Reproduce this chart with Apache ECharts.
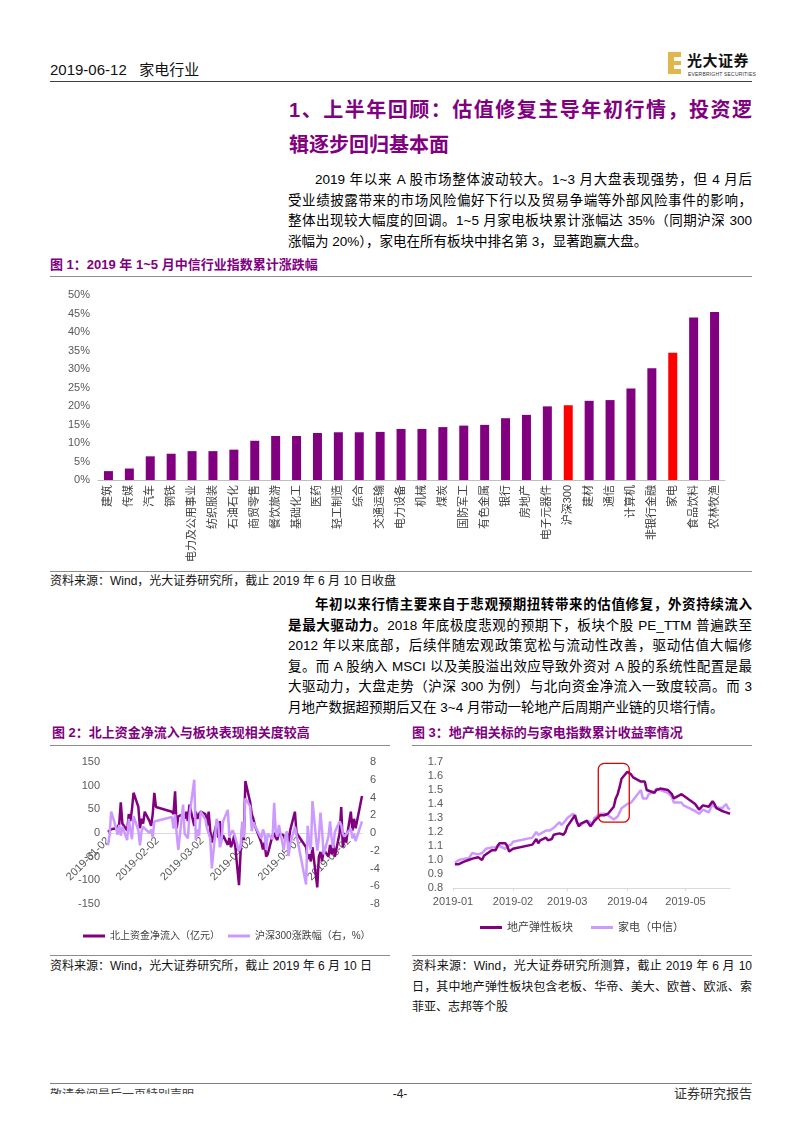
<!DOCTYPE html>
<html><head><meta charset="utf-8">
<script src="https://cdn.jsdelivr.net/npm/echarts@6/dist/echarts.min.js"></script>
<style>
body{margin:0;width:802px;height:1133px;background:#fff;position:relative;overflow:hidden;font-family:"Liberation Sans",Arial,"Noto Sans CJK SC",sans-serif;color:#000;}
.abs{position:absolute;white-space:nowrap;}
.jl{text-align:justify;text-align-last:justify;}
.hr{position:absolute;height:0;border-top:1px solid #8c8c8c;}
.ft{position:absolute;white-space:nowrap;font-weight:bold;color:#800080;font-size:13px;line-height:16px;}
.src{position:absolute;white-space:nowrap;font-size:12px;line-height:16px;color:#111;}
.p{position:absolute;left:288px;width:464px;font-size:13.5px;line-height:20px;white-space:nowrap;}
.chart{position:absolute;}
</style></head>
<body>
<!-- header -->
<div class="abs" style="left:50px;top:61px;font-size:15px;line-height:18px;color:#111;">2019-06-12&nbsp;&nbsp;&nbsp;家电行业</div>
<div style="position:absolute;left:668px;top:52px;width:13px;height:22px;background:#E2B64A;"></div>
<div style="position:absolute;left:674px;top:57px;width:7px;height:4px;background:#fff;"></div>
<div style="position:absolute;left:674px;top:65px;width:7px;height:4px;background:#fff;"></div>
<div class="abs" style="left:687px;top:52px;font-size:15px;line-height:17px;font-weight:bold;letter-spacing:0.5px;color:#111;">光大证券</div>
<div class="abs" style="left:688px;top:71px;font-size:5px;line-height:6px;color:#333;letter-spacing:0.2px;">EVERBRIGHT SECURITIES</div>
<div class="hr" style="left:50px;top:81px;width:702px;border-top:1.5px solid #404040;"></div>

<!-- heading -->
<div class="abs jl" style="left:289px;top:98px;width:463px;font-size:20px;line-height:24px;font-weight:bold;color:#800080;">1、上半年回顾：估值修复主导年初行情，投资逻</div>
<div class="abs" style="left:289px;top:133px;font-size:20px;line-height:24px;font-weight:bold;color:#800080;">辑逐步回归基本面</div>

<!-- paragraph 1 -->
<div class="p jl" style="top:170px;padding-left:27px;width:437px;">2019 年以来 A 股市场整体波动较大。1~3 月大盘表现强势，但 4 月后</div>
<div class="p jl" style="top:190.5px;">受业绩披露带来的市场风险偏好下行以及贸易争端等外部风险事件的影响，</div>
<div class="p jl" style="top:211px;">整体出现较大幅度的回调。1~5 月家电板块累计涨幅达 35%（同期沪深 300</div>
<div class="p" style="top:231.5px;">涨幅为 20%），家电在所有板块中排名第 3，显著跑赢大盘。</div>

<!-- figure 1 -->
<div class="ft" style="left:50px;top:257px;">图 1：2019 年 1~5 月中信行业指数累计涨跌幅</div>
<div class="hr" style="left:50px;top:276px;width:702px;"></div>
<div id="c1" class="chart" style="left:50px;top:280px;width:702px;height:288px;"></div>
<div class="hr" style="left:50px;top:571px;width:702px;"></div>
<div class="src" style="left:50px;top:573px;">资料来源：Wind，光大证券研究所，截止 2019 年 6 月 10 日收盘</div>

<!-- paragraph 2 -->
<div class="p jl" style="top:595px;padding-left:27px;width:437px;font-weight:bold;">年初以来行情主要来自于悲观预期扭转带来的估值修复，外资持续流入</div>
<div class="p jl" style="top:615.6px;"><b>是最大驱动力。</b>2018 年底极度悲观的预期下，板块个股 PE_TTM 普遍跌至</div>
<div class="p jl" style="top:636.2px;">2012 年以来底部，后续伴随宏观政策宽松与流动性改善，驱动估值大幅修</div>
<div class="p jl" style="top:656.8px;">复。而 A 股纳入 MSCI 以及美股溢出效应导致外资对 A 股的系统性配置是最</div>
<div class="p jl" style="top:677.4px;">大驱动力，大盘走势（沪深 300 为例）与北向资金净流入一致度较高。而 3</div>
<div class="p" style="top:698px;">月地产数据超预期后又在 3~4 月带动一轮地产后周期产业链的贝塔行情。</div>

<!-- figure 2 & 3 -->
<div class="ft" style="left:52px;top:725px;">图 2：北上资金净流入与板块表现相关度较高</div>
<div class="hr" style="left:50px;top:745px;width:340px;"></div>
<div id="c2" class="chart" style="left:50px;top:750px;width:340px;height:200px;"></div>
<div class="hr" style="left:50px;top:955px;width:340px;"></div>
<div class="src" style="left:50px;top:958px;">资料来源：Wind，光大证券研究所，截止 2019 年 6 月 10 日</div>

<div class="ft" style="left:412px;top:725px;">图 3：地产相关标的与家电指数累计收益率情况</div>
<div class="hr" style="left:412px;top:745px;width:340px;"></div>
<div id="c3" class="chart" style="left:412px;top:750px;width:340px;height:200px;"></div>
<div class="hr" style="left:412px;top:955px;width:340px;"></div>
<div class="src jl" style="left:412px;top:958px;width:340px;">资料来源：Wind，光大证券研究所测算，截止 2019 年 6 月 10</div>
<div class="src jl" style="left:412px;top:978.5px;width:340px;">日，其中地产弹性板块包含老板、华帝、美大、欧普、欧派、索</div>
<div class="src" style="left:412px;top:999px;">菲亚、志邦等个股</div>

<!-- footer -->
<div class="hr" style="left:50px;top:1083px;width:702px;border-top:1.5px solid #7f7f7f;"></div>
<div style="position:absolute;left:50px;top:1088px;width:200px;height:6px;overflow:hidden;">
  <div class="abs" style="left:0;top:0;font-size:12px;line-height:14px;color:#404040;">敬请参阅最后一页特别声明</div>
</div>
<div class="abs" style="left:385px;top:1086px;width:30px;text-align:center;font-size:12px;line-height:16px;color:#222;">-4-</div>
<div class="abs" style="left:652px;top:1086px;width:100px;text-align:right;font-size:13px;line-height:16px;color:#333;">证券研究报告</div>

<script>
// ---------- Figure 1 data ----------
const industries = ['建筑','传媒','汽车','钢铁','电力及公用事业','纺织服装','石油石化','商贸零售','餐饮旅游','基础化工','医药','轻工制造','综合','交通运输','电力设备','机械','煤炭','国防军工','有色金属','银行','房地产','电子元器件','沪深300','建材','通信','计算机','非银行金融','家电','食品饮料','农林牧渔'];
const ytdReturns = [2.4,3.1,6.4,7.1,7.8,7.8,8.2,10.6,11.9,11.9,12.7,12.9,12.9,13.0,13.8,13.8,14.3,14.7,14.9,16.7,17.6,19.9,20.2,21.4,21.6,24.7,30.2,34.4,43.9,45.4];
const highlighted = ['沪深300','家电'];

// ---------- Figure 2 data (trading days) ----------
const tradeDates = [
'2019-01-02','2019-01-03','2019-01-04','2019-01-07','2019-01-08','2019-01-09','2019-01-10','2019-01-11','2019-01-14','2019-01-15','2019-01-16','2019-01-17','2019-01-18','2019-01-21','2019-01-22','2019-01-23','2019-01-24','2019-01-25','2019-01-28','2019-01-29','2019-01-30','2019-01-31',
'2019-02-01','2019-02-11','2019-02-12','2019-02-13','2019-02-14','2019-02-15','2019-02-18','2019-02-19','2019-02-20','2019-02-21','2019-02-22','2019-02-25','2019-02-26','2019-02-27','2019-02-28',
'2019-03-01','2019-03-04','2019-03-05','2019-03-06','2019-03-07','2019-03-08','2019-03-11','2019-03-12','2019-03-13','2019-03-14','2019-03-15','2019-03-18','2019-03-19','2019-03-20','2019-03-21','2019-03-22','2019-03-25','2019-03-26','2019-03-27','2019-03-28','2019-03-29',
'2019-04-01','2019-04-02','2019-04-03','2019-04-04','2019-04-08','2019-04-09','2019-04-10','2019-04-11','2019-04-12','2019-04-15','2019-04-16','2019-04-17','2019-04-18','2019-04-19','2019-04-22','2019-04-23','2019-04-24','2019-04-25','2019-04-26','2019-04-29','2019-04-30',
'2019-05-06','2019-05-07','2019-05-08','2019-05-09','2019-05-10','2019-05-13','2019-05-14','2019-05-15','2019-05-16','2019-05-17','2019-05-20','2019-05-21','2019-05-22','2019-05-23','2019-05-24','2019-05-27','2019-05-28','2019-05-29','2019-05-30','2019-05-31',
'2019-06-03','2019-06-04','2019-06-05','2019-06-06','2019-06-10'];
const northFlow = [
2,0,8,10,12,18,65,20,5,40,25,50,85,55,10,30,20,45,25,15,40,85,
55,45,40,88,10,35,40,30,45,25,60,15,45,30,40,
45,40,15,45,5,-20,20,-10,25,-15,-5,-25,-10,-30,-20,-5,-110,-40,10,-15,110,
65,40,30,15,-20,-35,-20,-50,-45,-5,0,-10,-15,0,-5,-15,0,-20,5,45,0,
-30,-55,-45,-60,-30,-115,-50,-40,-60,-35,-50,-25,-45,-20,-50,0,55,-30,0,-20,
45,5,30,10,78];
const hs300Chg = [
-1.4,-0.2,2.4,0.6,-0.2,0.9,-0.3,0.7,-0.8,1.6,0.3,-0.7,1.9,0.3,-1.4,0.2,0.7,0.6,0.0,0.4,-0.5,1.3,
1.3,1.8,0.5,2.1,-0.1,-1.9,3.2,-0.1,0.0,-0.6,2.0,6.0,-0.8,0.4,-0.3,
2.4,1.5,0.5,0.4,-0.6,-4.0,1.6,1.0,-1.6,-1.0,1.3,2.6,-0.4,-0.2,0.3,-0.1,-2.0,-1.6,1.3,-0.5,3.9,
3.0,0.2,1.2,0.8,-0.6,0.4,-0.1,-1.9,-0.1,-0.7,3.4,0.2,-0.4,0.9,-1.9,-0.4,0.2,-2.6,-1.3,0.7,0.6,
-5.8,0.8,-1.1,-1.9,3.6,-2.0,-0.6,2.3,0.3,-2.4,-0.4,1.3,-0.6,-1.7,0.1,1.3,0.9,-0.1,-0.4,-0.4,
0.5,-0.6,-0.1,-0.9,1.3];
const flowLabelDates = ['2019-01-02','2019-02-02','2019-03-02','2019-04-02','2019-05-02','2019-06-02'];

// ---------- Figure 3 data (cumulative index, trading days from 2019-01-02) ----------
const propertyChain = [
0.97,0.96,0.97,0.99,1.00,1.00,0.99,1.01,1.02,1.01,1.00,1.03,1.04,1.07,1.06,1.07,1.10,1.12,1.12,1.10,1.06,1.07,
1.08,1.11,1.12,1.15,1.12,1.14,1.16,1.14,1.13,1.15,1.18,1.19,1.18,1.18,1.20,
1.24,1.30,1.32,1.27,1.24,1.26,1.28,1.26,1.24,1.25,1.28,1.32,1.33,1.32,1.31,1.33,1.38,1.44,1.47,1.52,1.58,
1.63,1.62,1.61,1.59,1.56,1.55,1.56,1.50,1.49,1.48,1.50,1.51,1.51,1.50,1.50,1.49,1.47,1.44,1.45,1.47,1.48,
1.40,1.38,1.36,1.37,1.39,1.38,1.39,1.42,1.40,1.37,1.35,1.36,1.34,1.34,1.33];
const applianceIdx = [
0.98,0.97,1.00,1.01,1.00,1.01,1.02,1.05,1.04,1.05,1.05,1.04,1.08,1.09,1.08,1.09,1.10,1.10,1.08,1.10,1.09,1.11,
1.13,1.16,1.17,1.20,1.18,1.17,1.21,1.20,1.21,1.20,1.23,1.27,1.25,1.26,1.28,
1.30,1.33,1.30,1.27,1.27,1.25,1.28,1.29,1.27,1.25,1.30,1.33,1.34,1.33,1.34,1.32,1.29,1.30,1.31,1.34,1.37,
1.40,1.39,1.41,1.41,1.50,1.44,1.45,1.44,1.47,1.49,1.51,1.51,1.50,1.49,1.48,1.47,1.45,1.41,1.40,1.41,1.39,
1.35,1.34,1.33,1.32,1.36,1.34,1.35,1.40,1.38,1.38,1.37,1.38,1.40,1.37,1.36];
const perfLabelDates = ['2019-01-01','2019-02-01','2019-03-01','2019-04-01','2019-05-01'];
const perfRange = ['2019-01-01','2019-05-24'];
const boxCorners = [['2019-03-17',1.69],['2019-04-02',1.27]];

// ---------- helpers ----------
const FONT = '"Liberation Sans", Arial, "Noto Sans CJK SC", sans-serif';
const ts = s => { const p = s.split('-').map(Number); return new Date(p[0], p[1]-1, p[2]).getTime(); };
const pad = n => (n < 10 ? '0' : '') + n;
const DARK = '#800080', LIGHT = '#CC99FF';

// ---------- Figure 1 ----------
const c1 = echarts.init(document.getElementById('c1'));
c1.setOption({
  animation:false,
  textStyle:{fontFamily:FONT},
  grid:{left:48,right:27,top:15,bottom:88,containLabel:false},
  xAxis:{type:'category',data:industries,
    axisLine:{lineStyle:{color:'#BFBFBF',width:1}},axisTick:{show:false},
    axisLabel:{rotate:90,interval:0,fontSize:11,color:'#404040',margin:5,fontFamily:FONT}},
  yAxis:{type:'value',min:0,max:50,interval:5,
    axisLine:{show:false},axisTick:{show:false},splitLine:{show:false},
    axisLabel:{formatter:'{value}%',fontSize:11,color:'#595959',margin:8,fontFamily:FONT}},
  series:[{type:'bar',barWidth:9,
    data:ytdReturns.map((v,i)=>({value:v,itemStyle:{color:highlighted.includes(industries[i])?'#FF0000':DARK}}))}]
});

// ---------- Figure 2 ----------
const c2 = echarts.init(document.getElementById('c2'));
const G2 = {left:58,right:28,top:12,bottom:46,h:200};
const zeroOffset = (G2.h - G2.top - G2.bottom) / 2; // distance from grid bottom to the zero line
c2.setOption({
  animation:false,
  textStyle:{fontFamily:FONT},
  grid:{left:G2.left,right:G2.right,top:G2.top,bottom:G2.bottom,containLabel:false},
  legend:{left:28,top:176,itemWidth:22,itemHeight:3,itemGap:8,icon:'rect',
    textStyle:{fontSize:10,color:'#404040',fontFamily:FONT},
    data:['北上资金净流入（亿元）','沪深300涨跌幅（右，%）']},
  xAxis:{type:'value',min:ts(tradeDates[0]),max:ts(tradeDates[tradeDates.length-1]),
    axisLine:{onZero:true,lineStyle:{color:'#D9D9D9',width:1}},axisTick:{show:false},splitLine:{show:false},
    axisLabel:{customValues:flowLabelDates.map(ts),rotate:45,fontSize:11,color:'#595959',margin:6 - zeroOffset,hideOverlap:false,
      formatter:v=>{const d=new Date(v);return d.getFullYear()+'-'+pad(d.getMonth()+1)+'-'+pad(d.getDate());}}},
  yAxis:[
    {type:'value',min:-150,max:150,interval:50,axisLine:{show:false},axisTick:{show:false},splitLine:{show:false},
      axisLabel:{fontSize:11,color:'#595959',margin:8}},
    {type:'value',min:-8,max:8,interval:2,axisLine:{show:false},axisTick:{show:false},splitLine:{show:false},
      axisLabel:{fontSize:11,color:'#595959',margin:8}}
  ],
  series:[
    {name:'北上资金净流入（亿元）',type:'line',yAxisIndex:0,symbol:'none',
      lineStyle:{color:DARK,width:2.5},itemStyle:{color:DARK},
      data:tradeDates.map((d,i)=>[ts(d),northFlow[i]])},
    {name:'沪深300涨跌幅（右，%）',type:'line',yAxisIndex:1,symbol:'none',
      lineStyle:{color:LIGHT,width:2.5},itemStyle:{color:LIGHT},
      data:tradeDates.map((d,i)=>[ts(d),hs300Chg[i]])}
  ]
});

// ---------- Figure 3 ----------
const c3 = echarts.init(document.getElementById('c3'));
const perfDates = tradeDates.slice(0, propertyChain.length);
c3.setOption({
  animation:false,
  textStyle:{fontFamily:FONT},
  grid:{left:41,right:22,top:12,bottom:62,containLabel:false},
  legend:{left:'center',top:167,itemWidth:22,itemHeight:3,itemGap:18,icon:'rect',
    textStyle:{fontSize:11,color:'#404040',fontFamily:FONT},
    data:['地产弹性板块','家电（中信）']},
  xAxis:{type:'value',min:ts(perfRange[0]),max:ts(perfRange[1]),
    axisLine:{lineStyle:{color:'#D9D9D9',width:1}},
    axisTick:{show:true,customValues:perfLabelDates.map(ts),length:3,lineStyle:{color:'#D9D9D9'}},
    splitLine:{show:false},
    axisLabel:{customValues:perfLabelDates.map(ts),fontSize:11,color:'#595959',margin:8,hideOverlap:false,
      formatter:v=>{const d=new Date(v);return d.getFullYear()+'-'+pad(d.getMonth()+1);}}},
  yAxis:{type:'value',min:0.8,max:1.7,interval:0.1,axisLine:{show:false},axisTick:{show:false},splitLine:{show:false},
    axisLabel:{fontSize:11,color:'#595959',margin:10,formatter:v=>v.toFixed(1)}},
  series:[
    {name:'地产弹性板块',type:'line',symbol:'none',lineStyle:{color:DARK,width:2.5},itemStyle:{color:DARK},z:3,
      data:perfDates.map((d,i)=>[ts(d),propertyChain[i]])},
    {name:'家电（中信）',type:'line',symbol:'none',lineStyle:{color:LIGHT,width:2.5},itemStyle:{color:LIGHT},z:2,
      data:perfDates.map((d,i)=>[ts(d),applianceIdx[i]])}
  ]
});
const pA = c3.convertToPixel({xAxisIndex:0,yAxisIndex:0},[ts(boxCorners[0][0]),boxCorners[0][1]]);
const pB = c3.convertToPixel({xAxisIndex:0,yAxisIndex:0},[ts(boxCorners[1][0]),boxCorners[1][1]]);
c3.setOption({graphic:[{type:'rect',z:10,silent:true,
  shape:{x:Math.min(pA[0],pB[0]),y:Math.min(pA[1],pB[1]),width:Math.abs(pB[0]-pA[0]),height:Math.abs(pB[1]-pA[1]),r:6},
  style:{fill:'none',stroke:'#E00000',lineWidth:1.3}}]});
</script>
</body></html>
